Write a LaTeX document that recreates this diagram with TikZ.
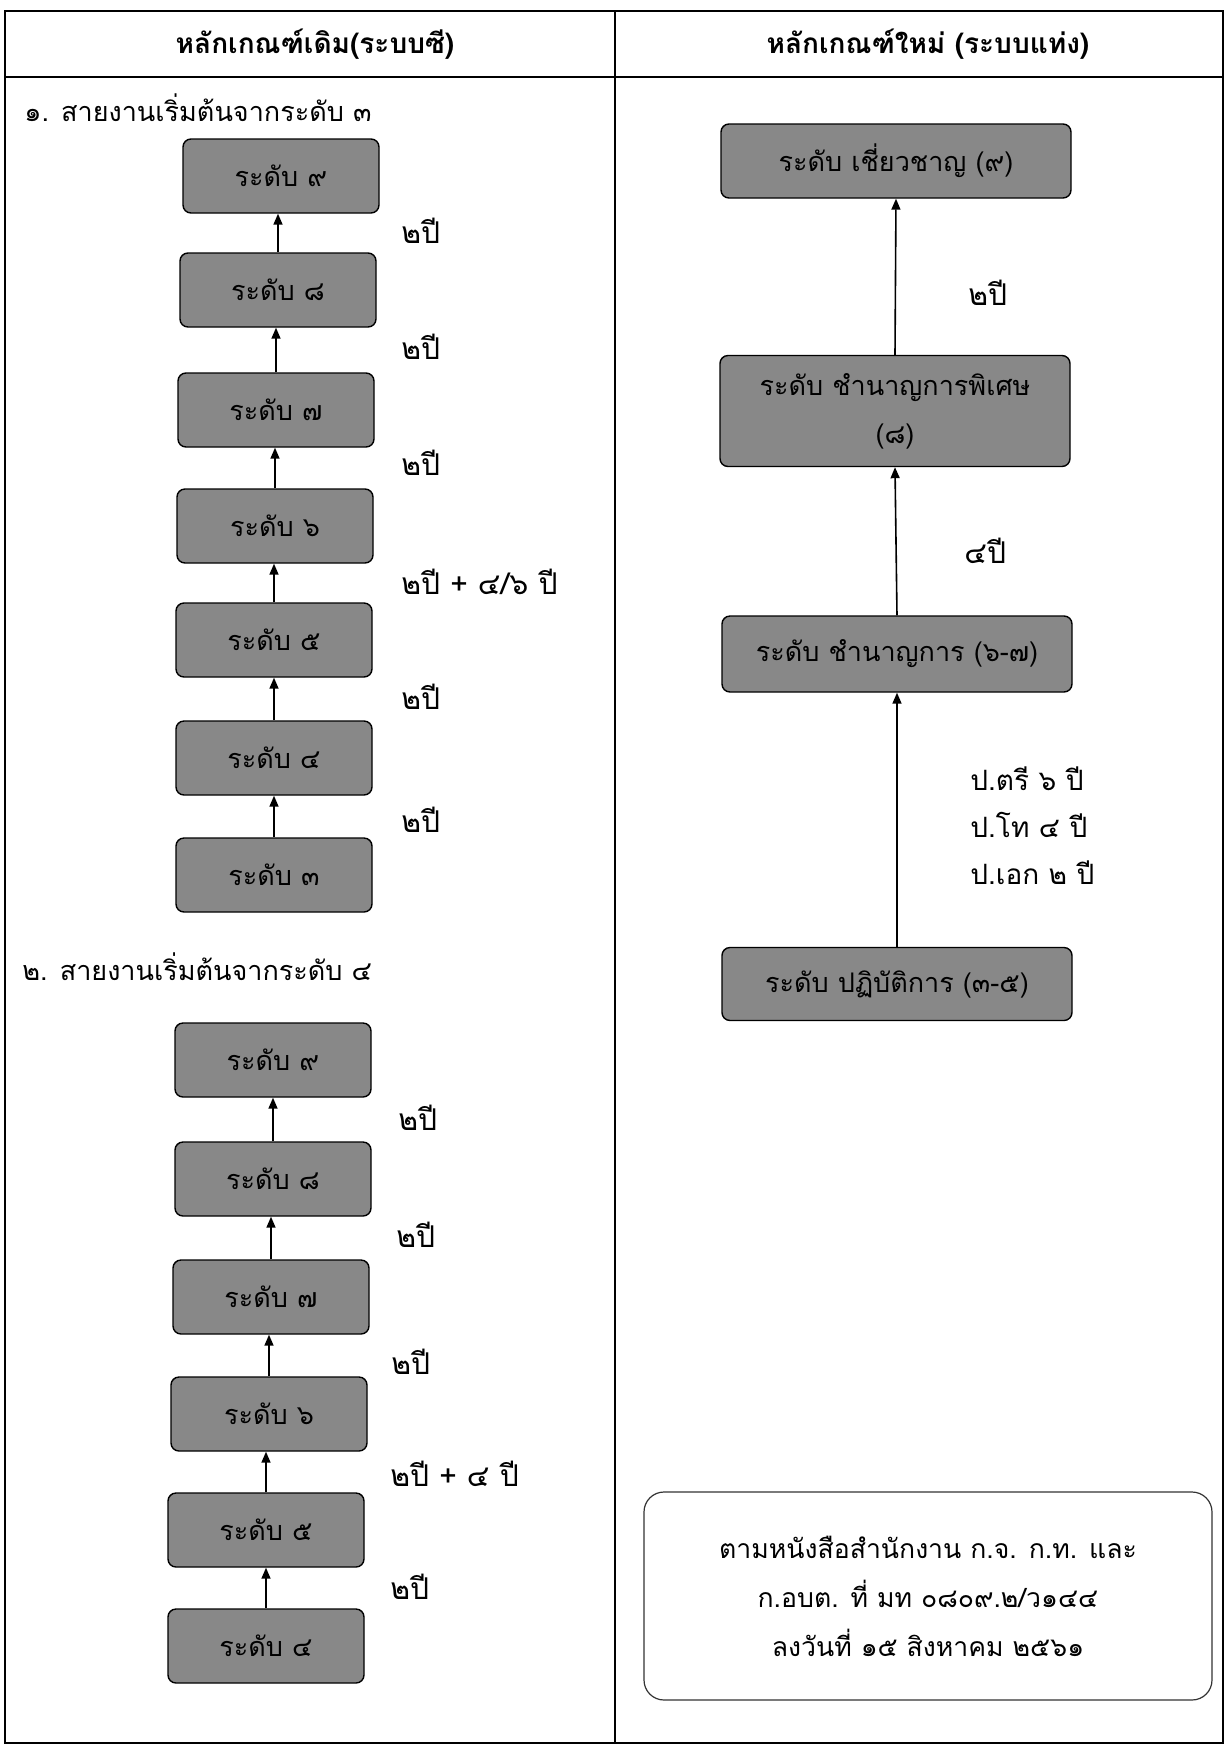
\documentclass[tikz,border=0pt]{standalone}
\usepackage{fontspec}
\usetikzlibrary{arrows.meta}
\newfontfamily\thai[Script=Thai]{Loma}
\definecolor{boxgray}{RGB}{136,136,136}
\begin{document}
\begin{tikzpicture}[x=0.5pt,y=-0.5pt,
  lvl/.style={draw=black, line width=0.7pt, fill=boxgray, rounded corners=4pt,
    minimum width=98pt, minimum height=37pt, inner sep=0pt,
    font=\thai\fontsize{13.5pt}{18pt}\selectfont},
  rlvl/.style={lvl, minimum width=175pt, align=center,
    font=\thai\fontsize{13.5pt}{24pt}\selectfont},
  yr/.style={anchor=west, inner sep=0pt, font=\thai\fontsize{15pt}{18pt}\selectfont},
  yrm/.style={anchor=north west, inner sep=0pt, align=left, font=\thai\fontsize{14pt}{23.5pt}\selectfont},
  ttl/.style={anchor=west, inner sep=0pt, font=\thai\fontsize{13.5pt}{18pt}\selectfont},
  hdr/.style={inner sep=0pt, font=\thai\bfseries\fontsize{14pt}{18pt}\selectfont},
  up/.style={-{Triangle[length=5.5pt,width=4.5pt]}, line width=0.8pt},
  frame/.style={line width=1pt}]
\useasboundingbox (0,0) rectangle (1228,1747);
% table
\draw[frame] (5,11) rectangle (1223,1743);
\draw[frame] (5,77) -- (1223,77);
\draw[frame] (615,11) -- (615,1743);
\node[hdr] (h1) at (315,44) {หลักเกณฑ์เดิม(ระบบซี)};
\node[hdr] (h2) at (928,44) {หลักเกณฑ์ใหม่ (ระบบแท่ง)};
% section 1
\node[ttl] (t1) at (24,108) {๑. สายงานเริ่มต้นจากระดับ ๓};
\node[lvl] (a9) at (281,176) {ระดับ ๙};
\node[lvl] (a8) at (278,290) {ระดับ ๘};
\node[lvl] (a7) at (276,410) {ระดับ ๗};
\node[lvl] (a6) at (275,526) {ระดับ ๖};
\node[lvl] (a5) at (274,640) {ระดับ ๕};
\node[lvl] (a4) at (274,758) {ระดับ ๔};
\node[lvl] (a3) at (274,875) {ระดับ ๓};
\foreach \lo/\hi in {a8/a9,a7/a8,a6/a7,a5/a6,a4/a5,a3/a4}
  \draw[up] (\lo.north) -- (\lo.north |- \hi.south);
\node[yr] (ya1) at (401,231) {๒ปี};
\node[yr] (ya2) at (401,347) {๒ปี};
\node[yr] (ya3) at (401,463) {๒ปี};
\node[yr] (ya4) at (401,582) {๒ปี + ๔/๖ ปี};
\node[yr] (ya5) at (401,697) {๒ปี};
\node[yr] (ya6) at (401,820) {๒ปี};
% section 2
\node[ttl] (t2) at (22,967) {๒. สายงานเริ่มต้นจากระดับ ๔};
\node[lvl] (b9) at (273,1060) {ระดับ ๙};
\node[lvl] (b8) at (273,1179) {ระดับ ๘};
\node[lvl] (b7) at (271,1297) {ระดับ ๗};
\node[lvl] (b6) at (269,1414) {ระดับ ๖};
\node[lvl] (b5) at (266,1530) {ระดับ ๕};
\node[lvl] (b4) at (266,1646) {ระดับ ๔};
\foreach \lo/\hi in {b8/b9,b7/b8,b6/b7,b5/b6,b4/b5}
  \draw[up] (\lo.north) -- (\lo.north |- \hi.south);
\node[yr] (yb1) at (398,1118) {๒ปี};
\node[yr] (yb2) at (396,1235) {๒ปี};
\node[yr] (yb3) at (391,1362) {๒ปี};
\node[yr] (yb4) at (390,1474) {๒ปี + ๔ ปี};
\node[yr] (yb5) at (390,1587) {๒ปี};
% right column
\node[rlvl] (r9) at (896,161) {ระดับ เชี่ยวชาญ (๙)};
\node[rlvl, minimum height=55.5pt] (r8) at (895,411) {ระดับ ชำนาญการพิเศษ\\(๘)};
\node[rlvl, minimum height=38pt] (r67) at (897,654) {ระดับ ชำนาญการ (๖-๗)};
\node[rlvl, minimum height=36.5pt] (r35) at (897,984) {ระดับ ปฏิบัติการ (๓-๕)};
\draw[up] (r35.north) -- (r67.south);
\draw[up] (r67.north) -- (r8.south);
\draw[up] (r8.north) -- (r9.south);
\node[yr] (yr1) at (968,293) {๒ปี};
\node[yr] (yr2) at (964,551) {๔ปี};
\node[yrm] (yr3) at (970,766) {ป.ตรี ๖ ปี\\ป.โท ๔ ปี\\ป.เอก ๒ ปี};
% note
\node[draw=black!80, line width=0.6pt, rounded corners=10pt,
  minimum width=284pt, minimum height=104pt, inner sep=0pt, align=center,
  font=\thai\fontsize{13.3pt}{24.5pt}\selectfont] (note) at (928,1596)
  {ตามหนังสือสำนักงาน ก.จ. ก.ท. และ\\ก.อบต. ที่ มท ๐๘๐๙.๒/ว๑๔๔\\ลงวันที่ ๑๕ สิงหาคม ๒๕๖๑};
\end{tikzpicture}
\end{document}
